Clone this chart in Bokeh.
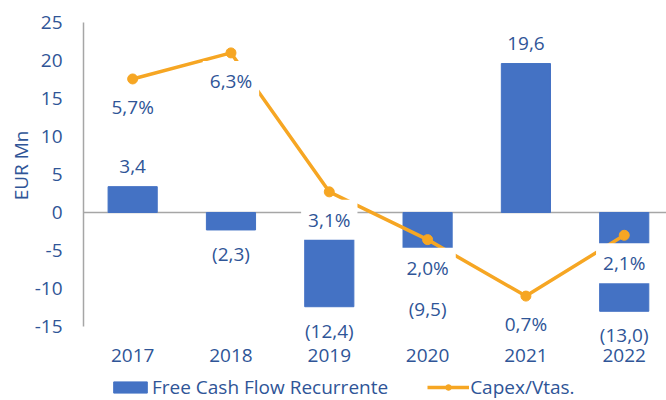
from bokeh.plotting import figure
from bokeh.models import (Range1d, FixedTicker, ColumnDataSource, Span, Legend,
                          LegendItem, Title)
from bokeh.embed import file_html
from bokeh.resources import INLINE
from bokeh.core.properties import value

# ---- data ----
years = [2017, 2018, 2019, 2020, 2021, 2022]
fcf = [3.4, -2.3, -12.4, -9.5, 19.6, -13.0]          # Free Cash Flow Recurrente (EUR Mn)
capex_pct = [5.7, 6.3, 3.1, 2.0, 0.7, 2.1]            # Capex/Vtas. (%)
y_ticks = [-15, -10, -5, 0, 5, 10, 15, 20, 25]
year_labels = ["2017", "2018", "2019", "2020", "2021", "2022"]

BLUE = "#4472C4"
ORANGE = "#F6A623"
TXT = "#2F5597"
AXIS = "#A6A6A6"
FONT = "Open Sans"
FS = "19px"

Y_MIN, Y_MAX = -15, 25          # visible value axis
PCT_MIN, PCT_MAX = 0, 7         # hidden secondary axis
Y_LOW = -24.74                  # frame extends below the axis for labels/legend

def fmt_fcf(v):
    s = f"{abs(v):.1f}".replace(".", ",")
    return f"({s})" if v < 0 else s


bar_src = ColumnDataSource(dict(
    x=years, top=fcf,
    label=[fmt_fcf(v) for v in fcf],
    off=[-20 if v >= 0 else 24 for v in fcf],
))
pct_src = ColumnDataSource(dict(
    x=years, y=capex_pct,
    label=[f"{v:.1f}%".replace(".", ",") for v in capex_pct],
))

p = figure(width=666, height=400, output_backend="svg", toolbar_location=None,
           x_range=Range1d(2016.5, 2022.43), y_range=Range1d(Y_LOW, Y_MAX),
           min_border_left=83, min_border_right=0, min_border_top=22,
           min_border_bottom=0)
pct_per_unit = (PCT_MAX - PCT_MIN) / (Y_MAX - Y_MIN)
p.extra_y_ranges = {"pct": Range1d(PCT_MIN + (Y_LOW - Y_MIN) * pct_per_unit, PCT_MAX)}
p.outline_line_color = None
p.grid.visible = False
p.background_fill_color = "white"
p.border_fill_color = "white"

# y axis
ya = p.yaxis[0]
ya.ticker = FixedTicker(ticks=y_ticks)
ya.bounds = (Y_MIN, Y_MAX)
ya.major_label_overrides = {t: str(t) for t in y_ticks}
ya.axis_line_color = AXIS
ya.axis_line_width = 1.5
ya.major_tick_line_color = None
ya.minor_tick_line_color = None
ya.major_label_standoff = 15
ya.major_label_text_font = FONT
ya.major_label_text_font_size = FS
ya.major_label_text_color = TXT

# y axis title, placed along the visible value axis
p.add_layout(Title(text="EUR Mn", align="right", offset=108, standoff=-4,
                   text_font=FONT, text_font_size=FS, text_font_style="normal",
                   text_color=TXT), "left")

# x axis (drawn at the bottom of the value axis)
xa = p.xaxis[0]
xa.fixed_location = Y_MIN
xa.ticker = FixedTicker(ticks=years)
xa.major_label_overrides = {y: l for y, l in zip(years, year_labels)}
xa.axis_line_color = None
xa.major_tick_line_color = None
xa.minor_tick_line_color = None
xa.major_label_standoff = 17
xa.major_label_text_font = FONT
xa.major_label_text_font_size = FS
xa.major_label_text_color = TXT

p.add_layout(Span(location=0, dimension="width", line_color=AXIS,
                  line_width=1.5, level="underlay"))

bars = p.vbar(x="x", top="top", bottom=0, width=0.5, source=bar_src,
              fill_color=BLUE, line_color=BLUE)
line = p.line(x="x", y="y", source=pct_src, y_range_name="pct",
              line_color=ORANGE, line_width=3.5)
dots = p.scatter(x="x", y="y", source=pct_src, y_range_name="pct",
                 size=10, fill_color=ORANGE, line_color=ORANGE)

p.text(x="x", y="top", text="label", y_offset="off", source=bar_src,
       text_align="center", text_baseline="middle",
       text_font=value(FONT), text_font_size=FS, text_color=TXT)
p.text(x="x", y="y", text="label", y_offset=28, source=pct_src,
       y_range_name="pct", text_align="center", text_baseline="middle",
       text_font=value(FONT), text_font_size=FS, text_color=TXT,
       background_fill_color="white", padding=7)

legend = Legend(items=[
    LegendItem(label="Free Cash Flow Recurrente", renderers=[bars]),
    LegendItem(label="Capex/Vtas.", renderers=[line, dots]),
], orientation="horizontal", location=(26, 0),
    label_text_font=FONT, label_text_font_size=FS, label_text_color=TXT,
    glyph_width=42, glyph_height=14, label_standoff=1, spacing=39,
    padding=2, margin=0, border_line_color=None, background_fill_alpha=0)
p.add_layout(legend, "center")

open("out.html", "w").write(file_html(p, INLINE))
